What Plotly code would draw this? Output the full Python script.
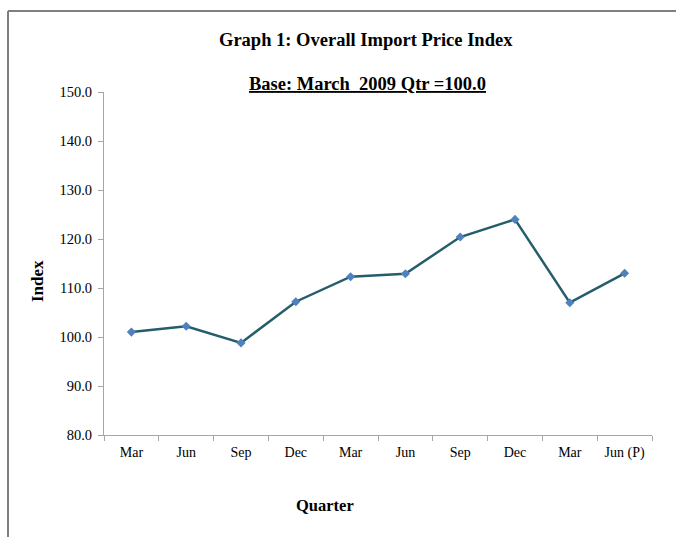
import plotly.graph_objects as go

quarters = ["Mar", "Jun", "Sep", "Dec", "Mar", "Jun", "Sep", "Dec", "Mar", "Jun (P)"]
index_values = [101.0, 102.2, 98.8, 107.2, 112.3, 112.9, 120.4, 124.0, 107.0, 113.0]
y_ticks = [80, 90, 100, 110, 120, 130, 140, 150]

W, H = 676, 537
L, R, T, B = 104, 652, 92, 435
pw, ph = R - L, B - T

def px(x):
    return (x - L) / pw

def py(y):
    return (B - y) / ph

FONT = "Liberation Serif"
AX = "#A6A6A6"

xpos = list(range(len(quarters)))
bounds = [i - 0.5 for i in range(len(quarters) + 1)]

fig = go.Figure()
fig.add_trace(go.Scatter(
    x=xpos, y=index_values, mode="lines+markers",
    line=dict(color="#255E6B", width=2.5),
    marker=dict(symbol="diamond", size=7, color="#4F81BD"),
    showlegend=False, hoverinfo="skip",
))
# invisible trace to activate boundary-tick axis
fig.add_trace(go.Scatter(x=[bounds[0]], y=[y_ticks[0]], xaxis="x2", mode="markers",
                         marker=dict(opacity=0), showlegend=False, hoverinfo="skip"))

fig.update_layout(
    width=W, height=H,
    margin=dict(l=L, r=W - R, t=T, b=H - B, pad=0),
    paper_bgcolor="white", plot_bgcolor="white",
    font=dict(family=FONT, color="#000000"),
    xaxis=dict(range=[bounds[0], bounds[-1]], tickvals=xpos, ticktext=quarters,
               ticks="", showline=True, linecolor=AX, linewidth=1, showgrid=False,
               zeroline=False, tickfont=dict(size=14, family=FONT), ticklabelstandoff=4),
    xaxis2=dict(range=[bounds[0], bounds[-1]], overlaying="x", side="bottom",
                tickvals=bounds, ticks="outside", ticklen=5, tickcolor=AX, tickwidth=1,
                showticklabels=False, showline=False, showgrid=False, zeroline=False),
    yaxis=dict(range=[y_ticks[0], y_ticks[-1]], tickvals=y_ticks,
               ticktext=[f"{v:.1f}" for v in y_ticks],
               ticks="outside", ticklen=5, tickcolor=AX, tickwidth=1,
               showline=True, linecolor=AX, linewidth=1, showgrid=False, zeroline=False,
               tickfont=dict(size=14.5, family=FONT), ticklabelstandoff=3),
    shapes=[
        dict(type="line", xref="paper", yref="paper", x0=px(8), x1=px(690), y0=py(11), y1=py(11),
             line=dict(color="#7F7F7F", width=2)),
        dict(type="line", xref="paper", yref="paper", x0=px(8), x1=px(8), y0=py(11), y1=py(560),
             line=dict(color="#7F7F7F", width=2)),
    ],
    annotations=[
        dict(text="<b>Graph 1: Overall Import Price Index</b>", xref="paper", yref="paper",
             x=px(366), y=py(40), showarrow=False, font=dict(size=18.5, family=FONT),
             xanchor="center", yanchor="middle"),
        dict(text="<b><u>Base: March\u00a0 2009 Qtr =100.0</u></b>", xref="paper", yref="paper",
             x=px(367), y=py(84), showarrow=False, font=dict(size=18.5, family=FONT),
             xanchor="center", yanchor="middle"),
        dict(text="<b>Index</b>", xref="paper", yref="paper", x=px(37), y=py(281),
             textangle=-90, showarrow=False, font=dict(size=17, family=FONT),
             xanchor="center", yanchor="middle"),
        dict(text="<b>Quarter</b>", xref="paper", yref="paper", x=px(325), y=py(505),
             showarrow=False, font=dict(size=16.5, family=FONT),
             xanchor="center", yanchor="middle"),
    ],
)

fig.write_html("out.html", config={"displayModeBar": False},
               post_script="document.body.style.margin='0';")
